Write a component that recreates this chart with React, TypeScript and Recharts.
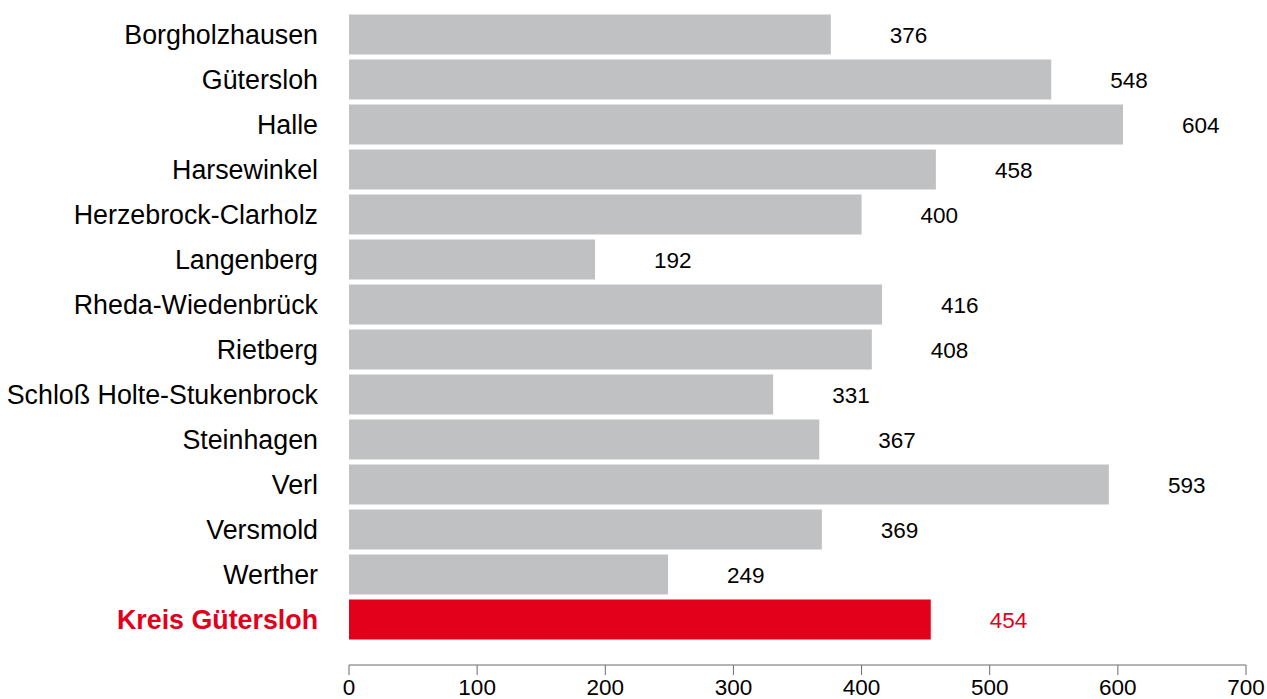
import { BarChart, Bar, XAxis, YAxis, Cell, LabelList } from 'recharts';

const places = [
  'Borgholzhausen',
  'Gütersloh',
  'Halle',
  'Harsewinkel',
  'Herzebrock-Clarholz',
  'Langenberg',
  'Rheda-Wiedenbrück',
  'Rietberg',
  'Schloß Holte-Stukenbrock',
  'Steinhagen',
  'Verl',
  'Versmold',
  'Werther',
  'Kreis Gütersloh',
];
const values = [376, 548, 604, 458, 400, 192, 416, 408, 331, 367, 593, 369, 249, 454];
const xTicks = [0, 100, 200, 300, 400, 500, 600, 700];
const totalName = 'Kreis Gütersloh';

const GREY = '#c0c1c3';
const RED = '#e2001a';
const FONT = 'Arial, "Liberation Sans", sans-serif';

const rows = places.map((name, i) => ({ name, value: values[i] }));

const CategoryTick = (props: any) => {
  const { x, y, payload } = props;
  const isTotal = payload.value === totalName;
  return (
    <text
      x={x}
      y={y + 1}
      dy="0.35em"
      textAnchor="end"
      fontFamily={FONT}
      fontSize={26.8}
      fontWeight={isTotal ? 'bold' : 'normal'}
      fill={isTotal ? RED : '#000'}
    >
      {payload.value}
    </text>
  );
};

const ValueLabel = (props: any) => {
  const { x, y, width, height, value, index } = props;
  const isTotal = places[index] === totalName;
  return (
    <text
      x={x + width + 59}
      y={y + height / 2 + 1}
      dy="0.35em"
      textAnchor="start"
      fontFamily={FONT}
      fontSize={22.5}
      fill={isTotal ? RED : '#000'}
    >
      {value}
    </text>
  );
};

export default function App() {
  return (
    <div style={{ position: 'absolute', left: 0, top: 0, background: '#fff' }}>
      <BarChart
        width={1267}
        height={699}
        data={rows}
        layout="vertical"
        margin={{ top: 11.5, right: 21, bottom: 0, left: 0 }}
      >
        <XAxis
          type="number"
          domain={[0, 700]}
          ticks={xTicks}
          height={34}
          tickSize={10}
          tickMargin={4}
          stroke="#6b6b6b"
          tick={{ fill: '#000', fontSize: 22.5, fontFamily: FONT }}
          interval={0}
        />
        <YAxis
          type="category"
          dataKey="name"
          width={349}
          axisLine={false}
          tickLine={false}
          tickSize={0}
          tickMargin={31}
          padding={{ top: 0, bottom: 23.5 }}
          tick={<CategoryTick />}
          interval={0}
        />
        <Bar dataKey="value" barSize={40} isAnimationActive={false}>
          {rows.map((r) => (
            <Cell key={r.name} fill={r.name === totalName ? RED : GREY} />
          ))}
          <LabelList dataKey="value" content={<ValueLabel />} />
        </Bar>
      </BarChart>
    </div>
  );
}
